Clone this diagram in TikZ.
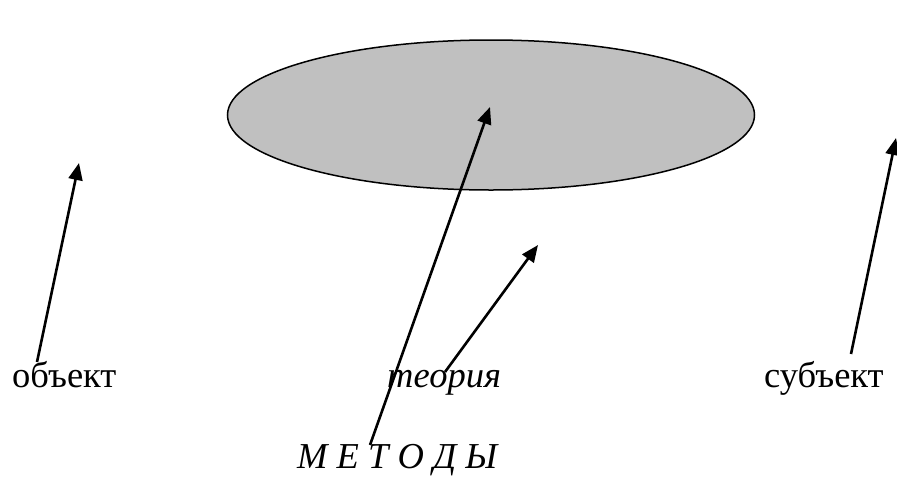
\documentclass[tikz,border=0pt]{standalone}
\usepackage{fontspec}
\setmainfont{Liberation Serif}
\usetikzlibrary{shapes.geometric,arrows.meta}
\begin{document}
\begin{tikzpicture}[x=1pt,y=-1pt,
  lbl/.style={anchor=base west,inner sep=0pt,font=\fontsize{36.5}{40}\selectfont},
  arr/.style={line width=2.6pt,-{Triangle[length=17pt,width=14pt]}},
  oval/.style={ellipse,draw,line width=1.5pt,fill={rgb,255:red,192;green,192;blue,192},minimum width=527pt,minimum height=150pt,inner sep=0pt}]
\useasboundingbox (0,0) rectangle (897,477);
\node[oval] (e) at (491,115) {};
\node[lbl] (obj) at (12,387) {объект};
\node[lbl] (teo) at (387,387) {\itshape теория};
\node[lbl] (sub) at (764,387) {субъект};
\node[lbl] (met) at (297,468) {\itshape М Е Т О Д Ы};
\coordinate (t1) at (79,163);
\coordinate (t2) at (490,107);
\coordinate (t3) at (538,245);
\coordinate (t4) at (896,138);
\coordinate (s1) at (37,362);
\coordinate (s2) at (370,445);
\coordinate (s3) at (445,372);
\coordinate (s4) at (851,354);
\draw[arr] (s1) -- (t1);
\draw[arr] (s2) -- (t2);
\draw[arr] (s3) -- (t3);
\draw[arr] (s4) -- (t4);
\end{tikzpicture}
\end{document}
